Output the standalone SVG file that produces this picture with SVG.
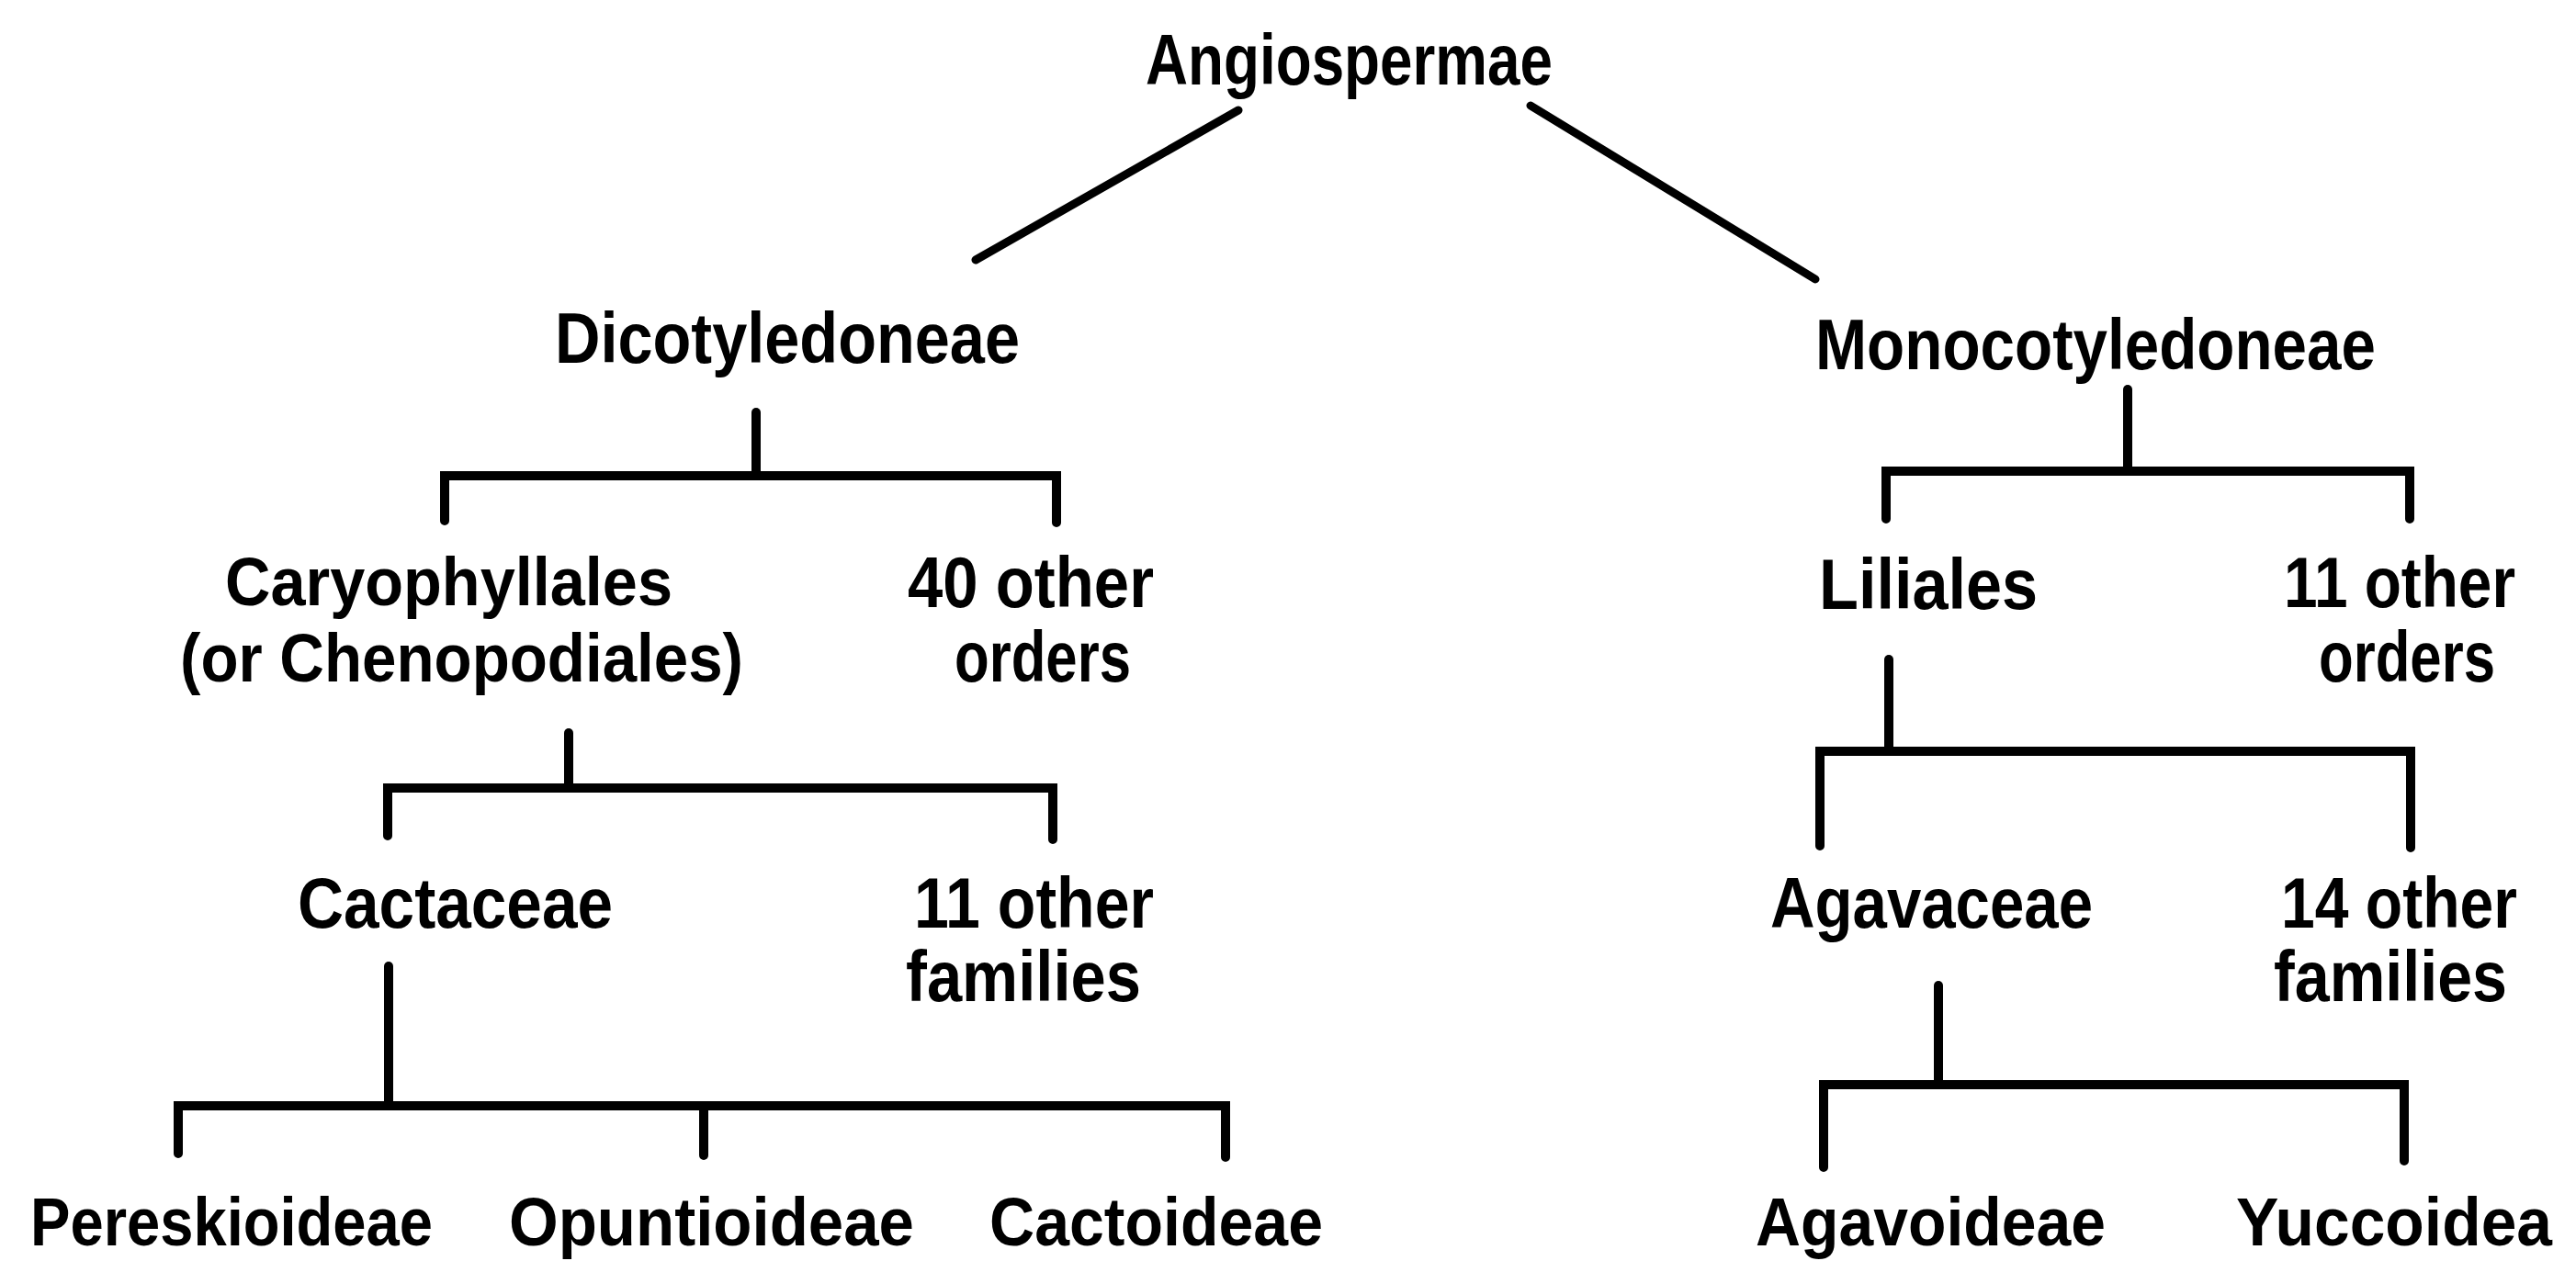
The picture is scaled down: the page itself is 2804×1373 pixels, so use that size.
<svg xmlns="http://www.w3.org/2000/svg" width="2804" height="1373" viewBox="0 0 2804 1373">
<style>
.t{font-family:"Liberation Sans",Arial,sans-serif;font-weight:bold;font-size:78px;fill:#000}
.s{font-size:74px}
.c{fill:none;stroke:#000;stroke-width:10;stroke-linecap:round;stroke-linejoin:miter}
.d{stroke-width:9}
</style>
<rect width="2804" height="1373" fill="#fff"/>
<g id="connectors">
<line class="c d" x1="1348" y1="120" x2="1062" y2="283"/>
<line class="c d" x1="1666" y1="115" x2="1976" y2="304"/>
<line class="c" x1="823" y1="449" x2="823" y2="518"/>
<path class="c" d="M484,567 V518 H1150 V569"/>
<line class="c" x1="619" y1="798" x2="619" y2="858"/>
<path class="c" d="M422,910 V858 H1146 V914"/>
<line class="c" x1="423" y1="1052" x2="423" y2="1204"/>
<path class="c" d="M194,1256 V1204 H1334 V1260"/>
<line class="c" x1="766" y1="1204" x2="766" y2="1258"/>
<line class="c" x1="2316" y1="424" x2="2316" y2="513"/>
<path class="c" d="M2053,565 V513 H2623 V565"/>
<line class="c" x1="2056" y1="718" x2="2056" y2="818"/>
<path class="c" d="M1981,921 V818 H2624 V923"/>
<line class="c" x1="2110" y1="1073" x2="2110" y2="1181"/>
<path class="c" d="M1985,1271 V1181 H2617 V1264"/>
</g>
<g id="angiospermae"><text class="t" x="1247" y="92" textLength="443" lengthAdjust="spacingAndGlyphs">Angiospermae</text></g>
<g id="dicotyledoneae"><text class="t" x="604" y="395" textLength="506" lengthAdjust="spacingAndGlyphs">Dicotyledoneae</text></g>
<g id="monocotyledoneae"><text class="t" x="1976" y="402" textLength="610" lengthAdjust="spacingAndGlyphs">Monocotyledoneae</text></g>
<g id="caryophyllales">
<text class="t s" x="245" y="659" textLength="487" lengthAdjust="spacingAndGlyphs">Caryophyllales</text>
<text class="t s" x="196" y="742" textLength="613" lengthAdjust="spacingAndGlyphs">(or Chenopodiales)</text>
</g>
<g id="other-orders-dicot">
<text class="t" x="988" y="661" textLength="268" lengthAdjust="spacingAndGlyphs">40 other</text>
<text class="t" x="1039" y="742" textLength="192" lengthAdjust="spacingAndGlyphs">orders</text>
</g>
<g id="liliales"><text class="t" x="1980" y="663" textLength="238" lengthAdjust="spacingAndGlyphs">Liliales</text></g>
<g id="other-orders-monocot">
<text class="t" x="2486" y="661" textLength="252" lengthAdjust="spacingAndGlyphs">11 other</text>
<text class="t" x="2524" y="742" textLength="192" lengthAdjust="spacingAndGlyphs">orders</text>
</g>
<g id="cactaceae"><text class="t" x="324" y="1010" textLength="343" lengthAdjust="spacingAndGlyphs">Cactaceae</text></g>
<g id="other-families-caryo">
<text class="t" x="995" y="1010" textLength="261" lengthAdjust="spacingAndGlyphs">11 other</text>
<text class="t" x="986" y="1090" textLength="256" lengthAdjust="spacingAndGlyphs">families</text>
</g>
<g id="agavaceae"><text class="t" x="1927" y="1010" textLength="351" lengthAdjust="spacingAndGlyphs">Agavaceae</text></g>
<g id="other-families-liliales">
<text class="t" x="2483" y="1010" textLength="257" lengthAdjust="spacingAndGlyphs">14 other</text>
<text class="t" x="2475" y="1090" textLength="254" lengthAdjust="spacingAndGlyphs">families</text>
</g>
<g id="pereskioideae"><text class="t s" x="33" y="1356" textLength="438" lengthAdjust="spacingAndGlyphs">Pereskioideae</text></g>
<g id="opuntioideae"><text class="t s" x="554" y="1356" textLength="441" lengthAdjust="spacingAndGlyphs">Opuntioideae</text></g>
<g id="cactoideae"><text class="t s" x="1077" y="1356" textLength="363" lengthAdjust="spacingAndGlyphs">Cactoideae</text></g>
<g id="agavoideae"><text class="t s" x="1911" y="1356" textLength="381" lengthAdjust="spacingAndGlyphs">Agavoideae</text></g>
<g id="yuccoidea"><text class="t s" x="2434" y="1356" textLength="344" lengthAdjust="spacingAndGlyphs">Yuccoidea</text></g>
</svg>
